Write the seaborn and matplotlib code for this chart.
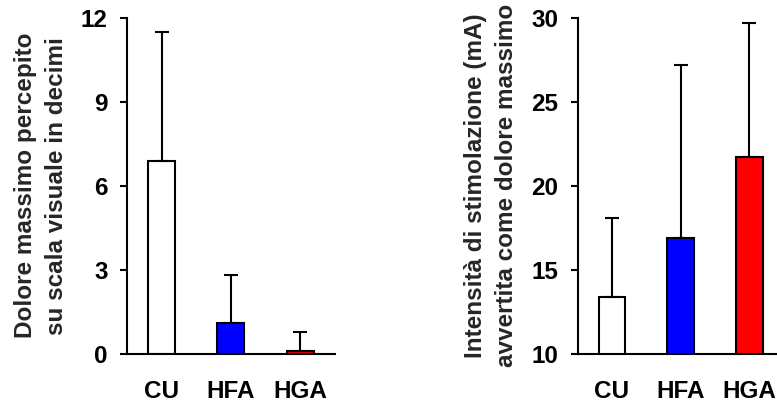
import matplotlib
matplotlib.use("Agg")
import matplotlib.pyplot as plt
import seaborn as sns
import pandas as pd

groups = ["CU", "HFA", "HGA"]
colors = ["white", "#0000FF", "#FF0000"]

# dolore massimo (VAS, decimi)
pain_mean = [6.9, 1.1, 0.1]
pain_sd = [4.6, 1.7, 0.7]

# intensità di stimolazione (mA)
mA_mean = [13.4, 16.9, 21.7]
mA_sd = [4.7, 10.3, 7.95]

sns.set_style("white")
plt.rcParams['font.family'] = ['Liberation Sans', 'DejaVu Sans']
plt.rcParams['font.weight'] = 'bold'

fig = plt.figure(figsize=(7.77, 4.08), dpi=100)
ax1 = fig.add_axes([0.1634, 0.1324, 0.2677, 0.8247])
ax2 = fig.add_axes([0.7435, 0.1324, 0.2565, 0.8247])

FS = 17.5


def draw(ax, means, sds, ylim, yticks, label, xmax, labelx):
    df = pd.DataFrame({"group": groups, "val": means})
    sns.barplot(data=df, x="group", y="val", hue="group", palette=colors,
                saturation=1, edgecolor="black", linewidth=1.5, width=0.39,
                legend=False, ax=ax)
    ax.errorbar(range(len(groups)), means, yerr=[[0] * len(sds), sds],
                fmt="none", ecolor="black", elinewidth=1.5, capsize=5, capthick=1.5)
    ax.set_ylim(*ylim)
    ax.set_xlim(-0.5, xmax)
    ax.set_yticks(yticks)
    ax.set_xlabel("")
    ax.set_ylabel(label, fontsize=FS, fontweight="bold", linespacing=1.4,
                  va="center")
    ax.yaxis.set_label_coords(labelx, 0.5)
    sns.despine(ax=ax)
    for s in ["left", "bottom"]:
        ax.spines[s].set_linewidth(1.5)
        ax.spines[s].set_color("black")
    ax.tick_params(axis="y", direction="out", length=5, width=1.5, pad=9,
                   labelsize=FS, left=True, colors="black")
    ax.tick_params(axis="x", length=0, pad=19, labelsize=FS, colors="black")
    for t in ax.get_xticklabels() + ax.get_yticklabels():
        t.set_fontweight("bold")


draw(ax1, pain_mean, pain_sd, (0, 12), [0, 3, 6, 9, 12],
     "Dolore massimo percepito\nsu scala visuale in decimi", 2.5, -0.413)
draw(ax2, mA_mean, mA_sd, (10, 30), [10, 15, 20, 25, 30],
     "Intensità di stimolazione (mA)\navvertita come dolore massimo", 2.405, -0.435)

fig.savefig("out.png", dpi=100, facecolor="white")
